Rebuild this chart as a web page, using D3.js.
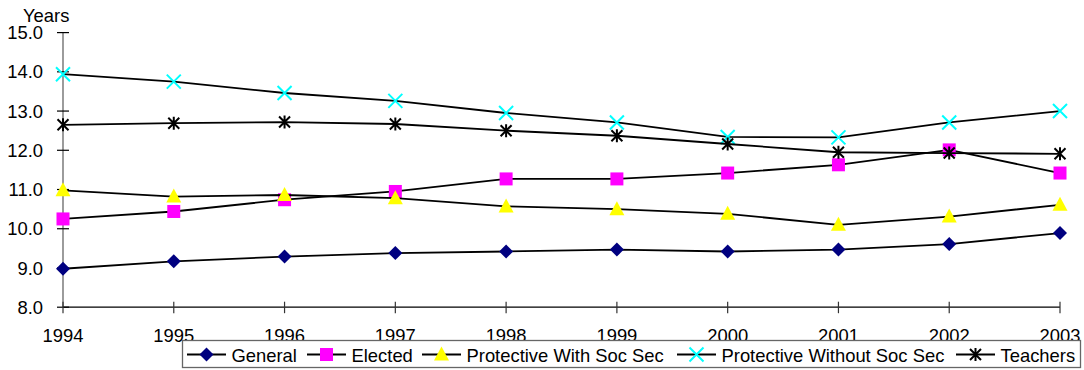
<!DOCTYPE html>
<html><head><meta charset="utf-8">
<script src="https://cdn.jsdelivr.net/npm/d3@7"></script>
<style>body{margin:0;background:#fff}svg{display:block;font-family:Arial,"Liberation Sans",sans-serif}</style>
</head><body><svg id="c" width="1084" height="370"></svg>
<script>
const years = [1994,1995,1996,1997,1998,1999,2000,2001,2002,2003];
const yTicks = [8,9,10,11,12,13,14,15];
const general = [8.98,9.17,9.29,9.38,9.42,9.47,9.42,9.47,9.61,9.89];
const elected = [10.25,10.44,10.74,10.95,11.27,11.27,11.42,11.63,12.01,11.42];
const protWith = [10.98,10.82,10.86,10.78,10.57,10.50,10.38,10.10,10.31,10.61];
const protWithout = [13.94,13.75,13.46,13.26,12.95,12.71,12.34,12.33,12.71,13.00];
const teachers = [12.65,12.69,12.72,12.67,12.50,12.37,12.16,11.95,11.93,11.91];
const seriesNames = ["General","Elected","Protective With Soc Sec","Protective Without Soc Sec","Teachers"];

const series = [
  {name:seriesNames[0], values:general, marker:"diamond", color:"#000080"},
  {name:seriesNames[1], values:elected, marker:"square", color:"#FF00FF"},
  {name:seriesNames[2], values:protWith, marker:"triangle", color:"#FFFF00"},
  {name:seriesNames[3], values:protWithout, marker:"x", color:"#00FFFF"},
  {name:seriesNames[4], values:teachers, marker:"star", color:"#000000"}
];

const svg = d3.select("#c");
const x = d3.scaleLinear().domain([1994,2003]).range([63,1060]);
const y = d3.scaleLinear().domain([8,15]).range([307.2,32.6]);
const FS = "18.4px";

// axes
const gy = svg.append("g");
gy.append("line").attr("x1",63).attr("x2",63).attr("y1",y(15)).attr("y2",y(8)).attr("stroke","#666").attr("stroke-width",1.3);
yTicks.forEach(t=>{
  gy.append("line").attr("x1",57).attr("x2",69).attr("y1",y(t)).attr("y2",y(t)).attr("stroke","#000").attr("stroke-width",1.2);
  gy.append("text").attr("x",43).attr("y",y(t)).attr("dy","0.36em").attr("text-anchor","end").attr("font-size",FS).attr("fill","#000").text(d3.format(".1f")(t));
});
const gx = svg.append("g");
gx.append("line").attr("x1",x(1994)).attr("x2",x(2003)).attr("y1",y(8)).attr("y2",y(8)).attr("stroke","#000").attr("stroke-width",1.2);
years.forEach(t=>{
  gx.append("line").attr("x1",x(t)).attr("x2",x(t)).attr("y1",y(8)-5.5).attr("y2",y(8)+6).attr("stroke","#333").attr("stroke-width",1.2);
  gx.append("text").attr("x",x(t)).attr("y",341.8).attr("text-anchor","middle").attr("font-size",FS).attr("fill","#000").text(t);
});
svg.append("text").attr("x",23).attr("y",21.5).attr("font-size",FS).attr("fill","#000").text("Years");

function drawMarker(g, type, color, cx, cy){
  if(type==="diamond"){
    g.append("path").attr("d",`M${cx},${cy-7}L${cx+7},${cy}L${cx},${cy+7}L${cx-7},${cy}Z`).attr("fill",color);
  } else if(type==="square"){
    g.append("rect").attr("x",cx-6.5).attr("y",cy-6.5).attr("width",13).attr("height",13).attr("fill",color);
  } else if(type==="triangle"){
    g.append("path").attr("d",`M${cx},${cy-8}L${cx+7.5},${cy+6}L${cx-7.5},${cy+6}Z`).attr("fill",color);
  } else if(type==="x"){
    g.append("path").attr("d",`M${cx-7},${cy-7}L${cx+7},${cy+7}M${cx+7},${cy-7}L${cx-7},${cy+7}`).attr("stroke",color).attr("stroke-width",2);
  } else if(type==="star"){
    g.append("path").attr("d",`M${cx-5.5},${cy-5.5}L${cx+5.5},${cy+5.5}M${cx+5.5},${cy-5.5}L${cx-5.5},${cy+5.5}M${cx},${cy-6.5}L${cx},${cy+6.5}`).attr("stroke",color).attr("stroke-width",2);
  }
}

const line = d3.line().x((d,i)=>x(years[i])).y(d=>y(d));
series.forEach(s=>{
  const g = svg.append("g");
  g.append("path").attr("d",line(s.values)).attr("fill","none").attr("stroke","#000").attr("stroke-width",1.8);
  s.values.forEach((v,i)=>drawMarker(g,s.marker,s.color,x(years[i]),y(v)));
});

// legend
const lg = svg.append("g");
lg.append("rect").attr("x",182.5).attr("y",340.5).attr("width",898).attr("height",27).attr("fill","#fff").attr("stroke","#666").attr("stroke-width",1.3);
const legX = [187,307,422,677,956];
series.forEach((s,i)=>{
  const lx = legX[i], ly = 354.5;
  lg.append("line").attr("x1",lx).attr("x2",lx+39).attr("y1",ly).attr("y2",ly).attr("stroke","#000").attr("stroke-width",1.8);
  drawMarker(lg,s.marker,s.color,lx+19.5,ly);
  lg.append("text").attr("x",lx+44.5).attr("y",361.5).attr("font-size",FS).attr("fill","#000").text(s.name);
});
</script></body></html>
